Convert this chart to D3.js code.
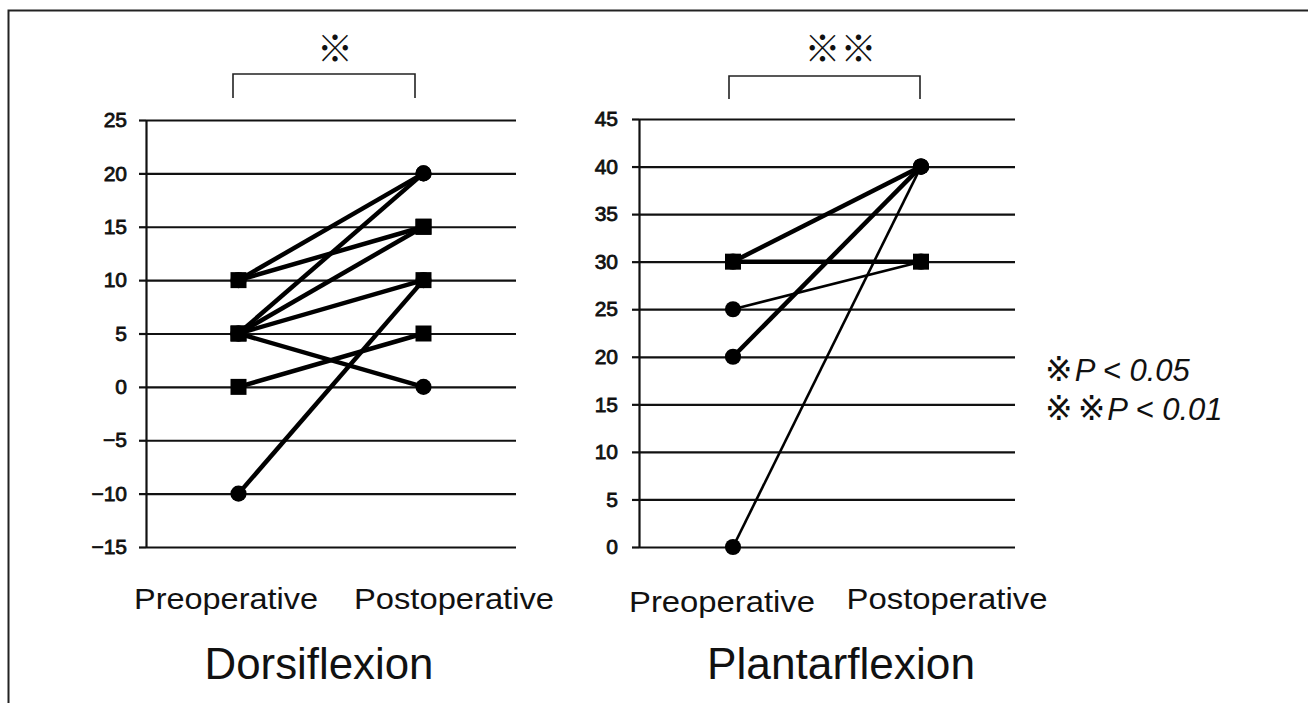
<!DOCTYPE html>
<html>
<head>
<meta charset="utf-8">
<script src="https://cdn.jsdelivr.net/npm/d3@7"></script>
<style>
  body { margin: 0; background: #fff; }
  svg { display: block; }
</style>
</head>
<body>
<div id="chart"></div>
<script>
// stages on the x axis
const stages = ["Preoperative", "Postoperative"];

// dorsiflexion (degrees), one entry per patient
const dorsiTicks = [-15, -10, -5, 0, 5, 10, 15, 20, 25];
const dorsiPre  = [10, 10, 5, 5, 5, 5, 0, -10];
const dorsiPost = [20, 15, 20, 15, 10, 0, 5, 10];

// plantarflexion (degrees)
const plantarTicks = [0, 5, 10, 15, 20, 25, 30, 35, 40, 45];
const plantarPre  = [30, 30, 25, 20, 0];
const plantarPost = [40, 30, 30, 40, 40];

// marker shape / line weight per patient line
const dorsiShape = ["circle", "square", "circle", "square", "square", "circle", "square", "circle"];
const dorsiWeight = [4.5, 4.5, 4.5, 4.5, 4.5, 4.5, 4.5, 4.5];
const plantarShape = ["circle", "square", "circle", "circle", "circle"];
const plantarWeight = [4.5, 4.5, 2.6, 4.5, 2.6];

const W = 1308, H = 703;

const svg = d3.select("#chart").append("svg")
    .attr("width", W)
    .attr("height", H);

// outer frame (top + left edges visible)
svg.append("path")
    .attr("d", "M8.5,703 L8.5,10.5 L1308,10.5")
    .attr("fill", "none")
    .attr("stroke", "#222")
    .attr("stroke-width", 2);

function drawPanel(opt) {
    let x = d3.scaleBand().domain(stages).range([opt.left, opt.right]);
    let y = d3.scaleLinear().domain(d3.extent(opt.ticks)).range([547, opt.top]);
    let cx = function (s) { return x(s) + x.bandwidth() / 2; };

    let g = svg.append("g");

    // gridlines
    g.append("g")
        .attr("transform", "translate(" + opt.left + ",0)")
        .call(d3.axisLeft(y).tickValues(opt.ticks).tickSize(-(opt.right - opt.left)).tickFormat(""))
        .call(a => a.select(".domain").remove())
        .selectAll("line")
        .attr("stroke", "#111")
        .attr("stroke-width", 2.2);

    // axis with stubs and labels
    g.append("g")
        .attr("transform", "translate(" + opt.left + ",0)")
        .call(d3.axisLeft(y).tickValues(opt.ticks).tickSize(7).tickPadding(opt.pad).tickSizeOuter(0))
        .call(a => a.select(".domain").attr("stroke", "#111").attr("stroke-width", 2.2))
        .call(a => a.selectAll(".tick line").attr("stroke", "#111").attr("stroke-width", 2.2))
        .call(a => a.selectAll(".tick text")
            .style("font-family", "'Liberation Sans', Arial, sans-serif")
            .style("font-size", "21px")
            .style("fill", "#111")
            .style("stroke", "#111")
            .style("stroke-width", "0.8px"));

    let rows = opt.pre.map(function (v, i) {
        return { pre: v, post: opt.post[i], shape: opt.shape[i], w: opt.weight[i] };
    });

    g.selectAll(".pline")
        .data(rows)
        .enter().append("line")
        .attr("class", "pline")
        .attr("x1", cx(stages[0]))
        .attr("x2", cx(stages[1]))
        .attr("y1", d => y(d.pre))
        .attr("y2", d => y(d.post))
        .attr("stroke", "#000")
        .attr("stroke-width", d => d.w);

    // circles first, squares on top
    let pts = [];
    rows.forEach(d => {
        pts.push({ s: stages[0], v: d.pre, shape: d.shape });
        pts.push({ s: stages[1], v: d.post, shape: d.shape });
    });
    pts.sort((a, b) => (a.shape == "square") - (b.shape == "square"));

    g.selectAll(".mk")
        .data(pts)
        .enter().append("path")
        .attr("class", "mk")
        .attr("transform", d => "translate(" + cx(d.s) + "," + y(d.v) + ")")
        .attr("d", d => d.shape == "square" ? "M-8,-8H8V8H-8Z" : d3.symbol(d3.symbolCircle, 205)())
        .attr("fill", "#000");

    // category labels
    g.selectAll(".cat")
        .data(opt.catLabels)
        .enter().append("text")
        .attr("class", "cat")
        .attr("x", d => d.x)
        .attr("y", d => d.y)
        .attr("text-anchor", "middle")
        .attr("textLength", d => d.len)
        .attr("lengthAdjust", "spacingAndGlyphs")
        .style("font-family", "'Liberation Sans', Arial, sans-serif")
        .style("font-size", "30px")
        .style("fill", "#111")
        .text(d => d.t);

    g.append("text")
        .attr("x", opt.title.x)
        .attr("y", 679)
        .attr("text-anchor", "middle")
        .attr("textLength", opt.title.len)
        .attr("lengthAdjust", "spacingAndGlyphs")
        .style("font-family", "'Liberation Sans', Arial, sans-serif")
        .style("font-size", "45px")
        .style("fill", "#111")
        .text(opt.title.t);

    // significance bracket
    let b = opt.bracket;
    g.append("path")
        .attr("d", "M" + b.x1 + "," + b.bot + "V" + b.top + "H" + b.x2 + "V" + b.bot)
        .attr("fill", "none")
        .attr("stroke", "#222")
        .attr("stroke-width", 1.6);

    g.append("text")
        .attr("x", (b.x1 + b.x2) / 2 + b.dx)
        .attr("y", 62)
        .attr("text-anchor", "middle")
        .style("font-family", "'Noto Sans CJK JP', sans-serif")
        .style("font-size", "36px")
        .style("fill", "#111")
        .text(b.mark);
}

drawPanel({
    left: 146, right: 516, top: 120, pad: 12,
    ticks: dorsiTicks, pre: dorsiPre, post: dorsiPost,
    shape: dorsiShape, weight: dorsiWeight,
    catLabels: [{ t: stages[0], x: 226, y: 609, len: 184 }, { t: stages[1], x: 454, y: 609, len: 200 }],
    title: { t: "Dorsiflexion", x: 319, len: 229 },
    bracket: { x1: 233, x2: 415, top: 74, bot: 98, mark: "※", dx: 11 }
});

drawPanel({
    left: 639, right: 1015, top: 119, pad: 14,
    ticks: plantarTicks, pre: plantarPre, post: plantarPost,
    shape: plantarShape, weight: plantarWeight,
    catLabels: [{ t: stages[0], x: 722, y: 612, len: 186 }, { t: stages[1], x: 947, y: 609, len: 201 }],
    title: { t: "Plantarflexion", x: 841, len: 268 },
    bracket: { x1: 729, x2: 920, top: 76, bot: 99, mark: "※※", dx: 16 }
});

// p-value legend
const legend = [{ mark: "※", p: "P < 0.05" }, { mark: "※※", p: "P < 0.01" }];
let lg = svg.selectAll(".legend")
    .data(legend)
    .enter().append("text")
    .attr("class", "legend")
    .attr("x", 1045)
    .attr("y", (d, i) => 381 + i * 39)
    .style("font-family", "'Liberation Sans', Arial, sans-serif")
    .style("font-size", "31px")
    .style("fill", "#111");
lg.append("tspan")
    .style("font-family", "'DejaVu Sans', sans-serif")
    .style("font-size", "33px")
    .style("letter-spacing", "5px")
    .text(d => d.mark);
lg.append("tspan")
    .attr("dx", -3)
    .style("font-style", "italic")
    .text(d => d.p);
</script>
</body>
</html>
